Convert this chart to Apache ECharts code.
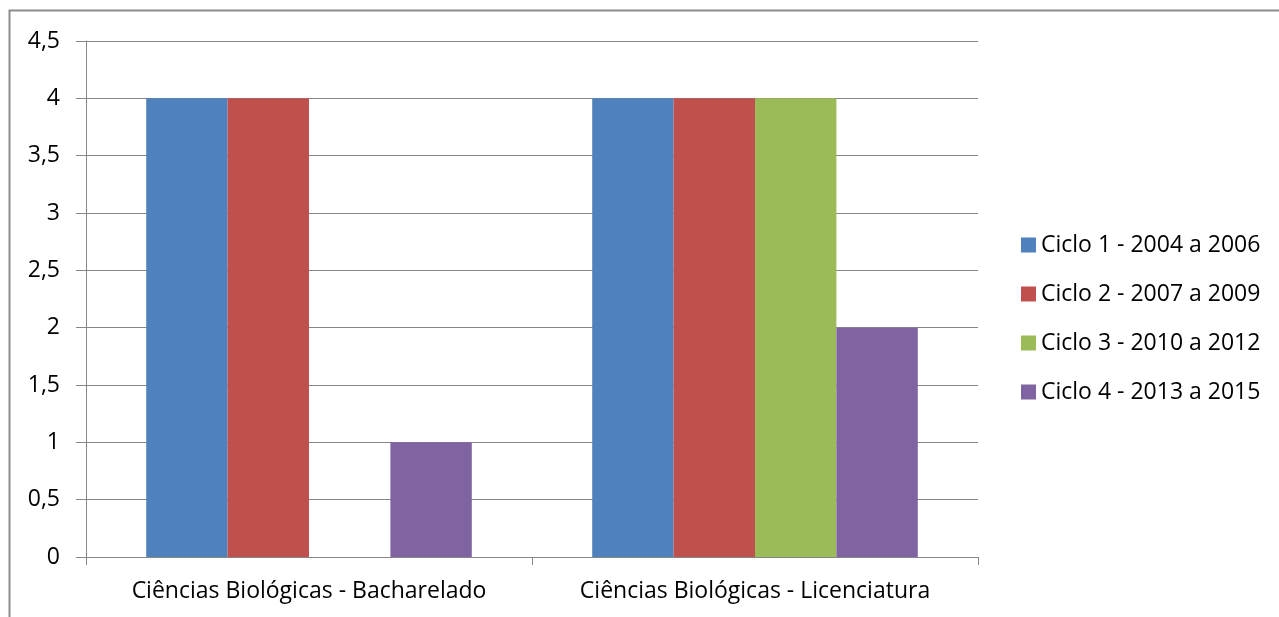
<!DOCTYPE html>
<html><head><meta charset="utf-8">
<script src="https://cdn.jsdelivr.net/npm/echarts@6/dist/echarts.min.js"></script>
<style>html,body{margin:0;padding:0;background:#fff}#c{width:1279px;height:617px}</style>
</head><body><div id="c"></div>
<script>
const categories = ['Ciências Biológicas - Bacharelado', 'Ciências Biológicas - Licenciatura'];
const seriesNames = ['Ciclo 1 - 2004 a 2006', 'Ciclo 2 - 2007 a 2009', 'Ciclo 3 - 2010 a 2012', 'Ciclo 4 - 2013 a 2015'];
const ciclo1 = [4, 4];
const ciclo2 = [4, 4];
const ciclo3 = [0, 4];
const ciclo4 = [1, 2];
const colors = ['#4F81BD', '#C0504D', '#9BBB59', '#8064A2'];
const FONT = 'Open Sans';
const FS = 23;
const chart = echarts.init(document.getElementById('c'), null, {renderer: 'canvas'});
const values = [ciclo1, ciclo2, ciclo3, ciclo4];
chart.setOption({
  animation: false,
  backgroundColor: '#fff',
  textStyle: {fontFamily: FONT},
  graphic: [{type: 'rect', shape: {x: 9.5, y: 10.5, width: 1400, height: 800}, style: {fill: 'none', stroke: '#8c8c8c', lineWidth: 2}, silent: true, z: -1}],
  grid: {left: 86, right: 301, top: 41, bottom: 60, containLabel: false},
  legend: {
    orient: 'vertical', left: 1021, top: 233.5, padding: 0,
    itemWidth: 15, itemHeight: 15, itemGap: 26,
    icon: 'rect',
    textStyle: {fontSize: FS, color: '#000', fontFamily: FONT, lineHeight: 23},
    data: seriesNames
  },
  xAxis: {
    type: 'category', data: categories,
    axisLine: {lineStyle: {color: '#868686', width: 1}},
    axisTick: {show: true, length: 8, interval: 0, lineStyle: {color: '#868686'}},
    axisLabel: {fontSize: FS, color: '#000', margin: 23, interval: 0, hideOverlap: false, fontFamily: FONT}
  },
  yAxis: {
    type: 'value', min: 0, max: 4.5, interval: 0.5,
    axisLine: {show: true, lineStyle: {color: '#868686'}},
    axisTick: {show: true, length: 10, lineStyle: {color: '#868686'}},
    splitLine: {lineStyle: {color: '#868686', width: 1}},
    axisLabel: {fontSize: FS, color: '#000', margin: 26, fontFamily: FONT,
      formatter: v => String(v).replace('.', ',')}
  },
  series: values.map((d, i) => ({
    name: seriesNames[i], type: 'bar', data: d,
    barGap: '0%', barCategoryGap: '27%',
    itemStyle: {color: colors[i]}
  }))
});
</script></body></html>
